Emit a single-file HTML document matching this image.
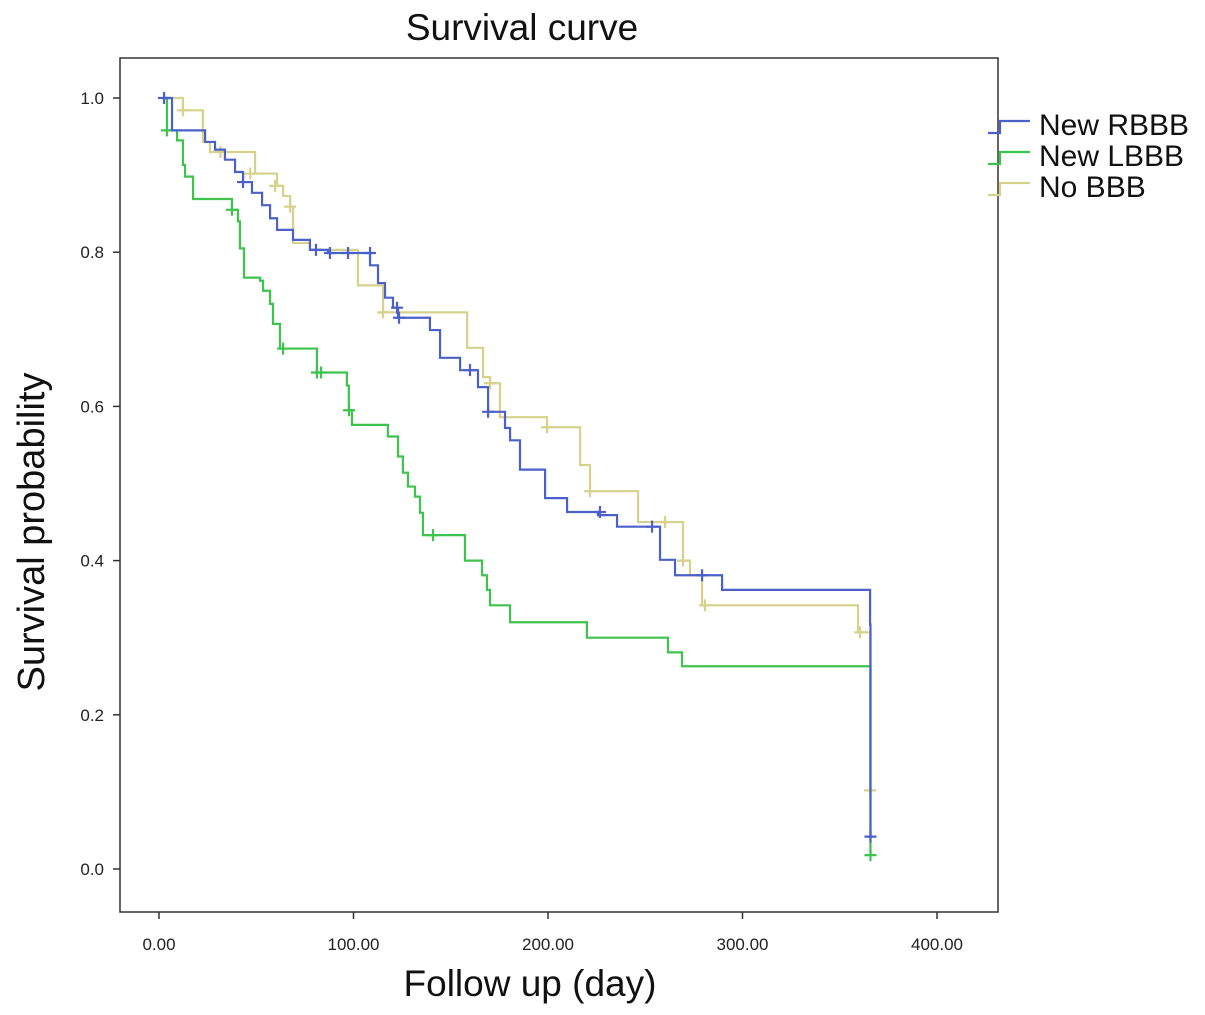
<!DOCTYPE html>
<html><head><meta charset="utf-8"><style>
html,body{margin:0;padding:0;background:#fff;}
svg{display:block;font-family:"Liberation Sans",sans-serif;}
</style></head><body>
<svg id="chart" width="1205" height="1015">
<text x="522" y="40" font-size="37" text-anchor="middle" fill="#111">Survival curve</text>
<rect x="120" y="58" width="878" height="854" fill="none" stroke="#333" stroke-width="1.5"/>
<g id="axes"></g>
<g id="series"></g>
<text x="530" y="996" font-size="37" text-anchor="middle" fill="#111">Follow up (day)</text>
<text transform="translate(44,532) rotate(-90)" font-size="38" text-anchor="middle" fill="#111">Survival probability</text>
<g id="legend"></g>
</svg>
<script>
const xTicks=[0,100,200,300,400];
const xTickLabels=["0.00","100.00","200.00","300.00","400.00"];
const yTicks=[0,0.2,0.4,0.6,0.8,1.0];
const yTickLabels=["0.0","0.2","0.4","0.6","0.8","1.0"];
const seriesNames=["New RBBB","New LBBB","No BBB"];
const seriesColors=["#4b60c9","#3ec44c","#d6d28c"];
const rbbbTimes=[2.6,6.7,23.7,28.8,33.9,39.1,43.2,47.8,53,57.1,60.7,68.9,77.6,86.9,108.5,112.6,116.2,120.3,122.9,139.3,144.5,154.8,164,169.2,177.9,180.5,185.6,198.5,209.8,225.7,235.5,257.6,265.3,289.5,365.6,365.8];
const rbbbSurv=[1,.958,.943,.933,.92,.904,.891,.877,.861,.844,.829,.816,.803,.799,.783,.76,.741,.728,.715,.699,.663,.647,.625,.593,.572,.556,.518,.481,.463,.459,.444,.401,.381,.362,.317,.042];
const rbbbCensT=[2.6,43.2,80.7,87.9,97.2,108.5,122.4,123.4,159.9,169.2,226.7,253.5,279.2,365.8];
const rbbbCensS=[1,.891,.803,.799,.799,.799,.728,.715,.647,.593,.463,.444,.381,.042];
const lbbbTimes=[2.6,4.1,9.3,12.3,13.4,17.5,37.5,40.6,41.6,43.7,52,53.5,57.1,58.6,62.2,81.2,96.6,97.6,99.2,117.7,122.9,125.4,128,131.6,134.2,135.7,157.3,166.1,168.6,170.2,180.5,220,261.7,268.9,365.6,365.8];
const lbbbSurv=[1,.958,.945,.913,.898,.869,.855,.84,.805,.767,.763,.75,.733,.707,.675,.644,.627,.595,.576,.561,.535,.514,.496,.483,.462,.433,.4,.381,.362,.342,.32,.3,.281,.263,.263,.018];
const lbbbCensT=[4.1,37.5,63.8,81.2,83.3,97.7,140.9,365.8];
const lbbbCensS=[.958,.855,.675,.644,.644,.595,.433,.018];
const nobbbTimes=[3,12.3,22.6,26.2,49.4,60.7,63.8,67.4,68.9,77.6,102.3,115.2,158.4,166.6,170.2,175.3,199.5,216.5,221.6,246.3,269.4,273,279.2,359.4,365.6];
const nobbbSurv=[1,.984,.943,.93,.902,.886,.873,.859,.812,.803,.757,.722,.676,.638,.63,.586,.573,.524,.49,.45,.4,.381,.342,.307,.102];
const nobbbCensT=[12.3,31.6,46.9,59.7,67.4,115.2,170.2,199.5,221.6,260.2,269.4,280.7,360.4,365.6];
const nobbbCensS=[.984,.93,.902,.886,.859,.722,.63,.573,.49,.45,.4,.342,.307,.102];

const NS="http://www.w3.org/2000/svg";
const X=d=>159+d*1.945;
const Y=s=>869-s*771;
function mk(tag,attrs,parent){const e=document.createElementNS(NS,tag);for(const k in attrs)e.setAttribute(k,attrs[k]);parent.appendChild(e);return e;}
const axes=document.getElementById('axes');
xTicks.forEach((t,i)=>{
  const l=mk('line',{x1:X(t),x2:X(t),y1:912,y2:919,stroke:'#333','stroke-width':1.5},axes);
  
  
  const tx=mk('text',{x:X(t),y:950,'font-size':17,'text-anchor':'middle',fill:'#222'},axes);
  tx.textContent=xTickLabels[i];
  
  
});
yTicks.forEach((t,i)=>{
  const l=mk('line',{x1:113,x2:120,y1:Y(t),y2:Y(t),stroke:'#333','stroke-width':1.5},axes);
  
  
  const tx=mk('text',{x:104,y:Y(t)+6,'font-size':17,'text-anchor':'end',fill:'#222'},axes);
  tx.textContent=yTickLabels[i];
  
  
});
const sg=document.getElementById('series');
const all=[[rbbbTimes,rbbbSurv,rbbbCensT,rbbbCensS],[lbbbTimes,lbbbSurv,lbbbCensT,lbbbCensS],[nobbbTimes,nobbbSurv,nobbbCensT,nobbbCensS]];
[2,1,0].forEach(k=>{
  const [T,S,CT,CS]=all[k];const c=seriesColors[k];
  let d='M'+X(T[0])+','+Y(S[0]);
  for(let i=1;i<T.length;i++){d+=' L'+X(T[i])+','+Y(S[i-1])+' L'+X(T[i])+','+Y(S[i]);}
  const p=mk('path',{d:d,fill:'none',stroke:c,'stroke-width':2.2},sg);
  
  
  CT.forEach((t,i)=>{
    const cx=X(t),cy=Y(CS[i]);
    const m=mk('path',{d:`M${cx-6},${cy} L${cx+6},${cy} M${cx},${cy-6} L${cx},${cy+6}`,stroke:c,'stroke-width':2.2,fill:'none'},sg);
    
    
  });
});
const lg=document.getElementById('legend');
seriesNames.forEach((n,i)=>{
  const y=125+i*31;
  const p=mk('path',{d:`M988,${y+8} L1000,${y+8} L1000,${y-4} L1030,${y-4}`,fill:'none',stroke:seriesColors[i],'stroke-width':2.2},lg);
  
  
  const t=mk('text',{x:1039,y:y+10,'font-size':30,fill:'#111'},lg);
  t.textContent=n;
  
  
});
</script>
</body></html>
